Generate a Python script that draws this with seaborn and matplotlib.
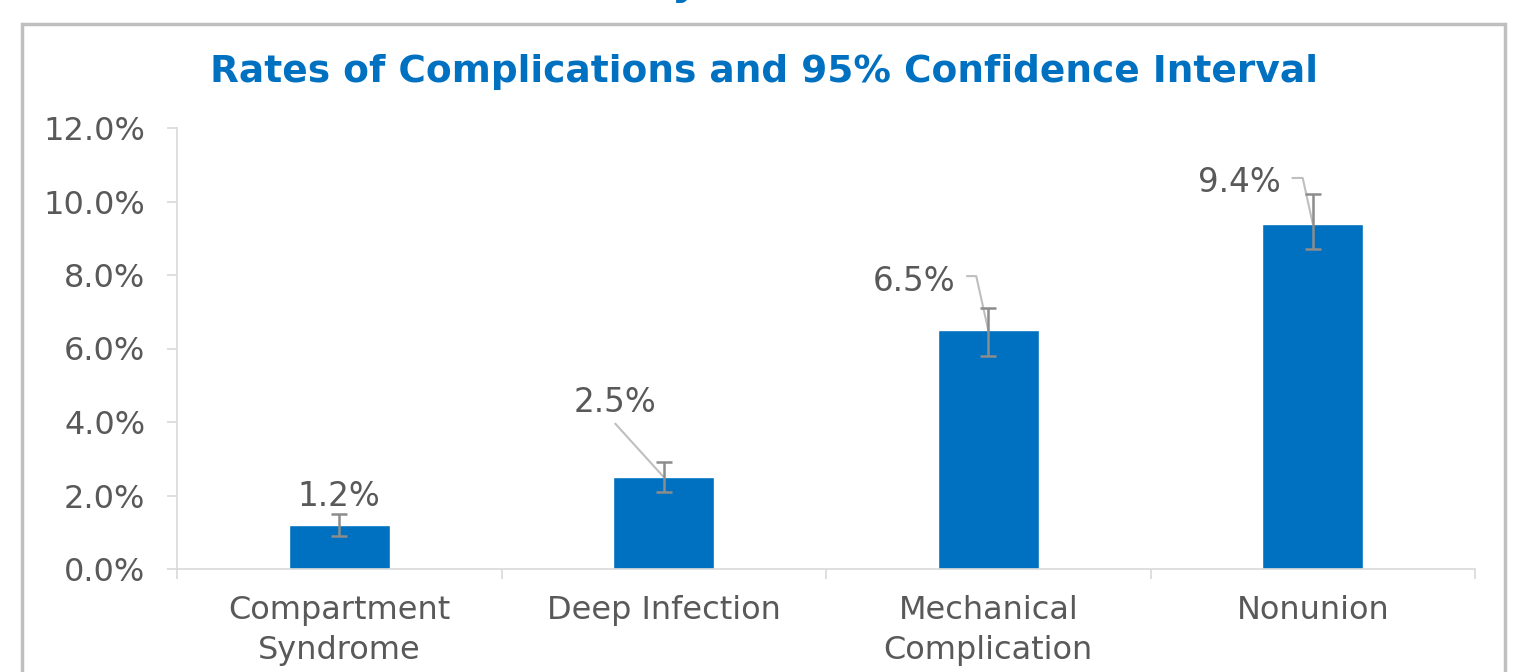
import matplotlib
matplotlib.use("Agg")
import numpy as np
import pandas as pd
import seaborn as sns
import matplotlib.pyplot as plt
from matplotlib.patches import Rectangle
from matplotlib.ticker import FuncFormatter, FixedLocator

# ---- data ----
categories = ["Compartment\nSyndrome", "Deep Infection", "Mechanical\nComplication", "Nonunion"]
rates = [1.2, 2.5, 6.5, 9.4]          # percent
ci_low = [0.9, 2.1, 5.8, 8.7]         # percent
ci_high = [1.5, 2.9, 7.1, 10.2]       # percent
value_labels = ["1.2%", "2.5%", "6.5%", "9.4%"]
y_ticks = [0, 2, 4, 6, 8, 10, 12]
title = "Rates of Complications and 95% Confidence Interval"

# ---- label layout (style): text offset (dx, dy) and leader-line elbow offsets ----
label_offsets = [(0.0, 0.51), (-0.151, 1.77), (-0.228, 1.06), (-0.225, 0.86)]
leader_paths = [None,
                [(-0.151, 1.47), (0.0, 0.0)],
                [(-0.068, 1.47), (-0.037, 1.47), (0.0, 0.0)],
                [(-0.065, 1.24), (-0.031, 1.24), (0.0, 0.0)]]

sns.set_style("white")
plt.rcParams["font.family"] = ["DejaVu Sans"]

BLUE = "#0070c0"
TXT = "#595959"
AXC = "#d9d9d9"

W, H = 1526, 672
fig = plt.figure(figsize=(W / 100, H / 100), dpi=100)
ax = fig.add_axes([177 / W, 1 - 569 / H, (1475 - 177) / W, (569 - 128) / H])

df = pd.DataFrame({"category": categories, "rate": rates})
sns.barplot(data=df, x="category", y="rate", color=BLUE, saturation=1,
            width=0.31, errorbar=None, ax=ax, zorder=2)

x = np.arange(len(categories))
r = np.array(rates)
yerr = np.vstack([r - np.array(ci_low), np.array(ci_high) - r])
ax.errorbar(x, r, yerr=yerr, fmt="none", ecolor="#8c8c8c", elinewidth=1.8,
            capsize=5.5, capthick=1.8, zorder=3)

ax.set_xlim(-0.5, len(categories) - 0.5)
ax.set_ylim(0, 12)
ax.set_yticks(y_ticks)
ax.yaxis.set_major_formatter(FuncFormatter(lambda v, p: f"{v:.1f}%"))
ax.set_xlabel("")
ax.set_ylabel("")

for s in ["top", "right"]:
    ax.spines[s].set_visible(False)
for s in ["left", "bottom"]:
    ax.spines[s].set_color(AXC)
    ax.spines[s].set_linewidth(1.2)

ax.tick_params(axis="y", which="major", direction="out", length=7.2, width=1.2,
               color=AXC, labelsize=23, labelcolor=TXT, pad=15.5, left=True)
ax.xaxis.set_minor_locator(FixedLocator(np.arange(-0.5, len(categories), 1.0)))
ax.tick_params(axis="x", which="minor", direction="out", length=7.2, width=1.2,
               color=AXC, bottom=True)
ax.tick_params(axis="x", which="major", length=0, labelsize=23, labelcolor=TXT, pad=19)
for lab in ax.get_xticklabels():
    lab.set_linespacing(1.35)

# data labels with leader lines
for i, (v, lab) in enumerate(zip(rates, value_labels)):
    dx, dy = label_offsets[i]
    ax.text(i + dx, v + dy, lab, ha="center", va="baseline", fontsize=23.5,
            color=TXT, zorder=4)
    path = leader_paths[i]
    if path:
        xs = [i + px for px, py in path]
        ys = [v + py for px, py in path]
        ax.plot(xs, ys, color="#bfbfbf", lw=1.5, zorder=2.5, solid_capstyle="butt")

# title
fig.text(764 / W, 1 - 82 / H, title, ha="center", va="baseline",
         fontsize=27, fontweight="bold", color=BLUE)

# cut-off slide heading fragment at the very top
fig.text(672 / W, 1 + 6 / H, "y", ha="left", va="baseline",
         fontsize=30, fontweight="bold", color=BLUE)

# chart frame
fig.add_artist(Rectangle((22 / W, -0.05), (1505 - 22) / W, 1.05 - 24 / H,
                         transform=fig.transFigure, fill=False,
                         edgecolor="#bfbfbf", lw=2.5, clip_on=False))

fig.savefig("out.png", dpi=100, facecolor="white")
